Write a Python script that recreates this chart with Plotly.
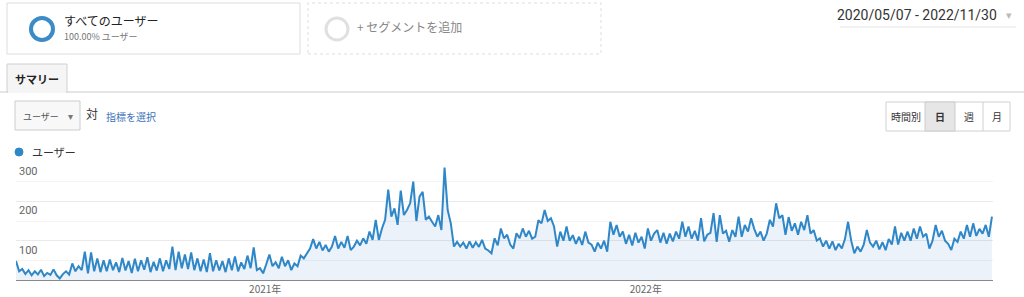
import pandas as pd
import plotly.graph_objects as go

start_date = "2020-05-07"
end_date = "2022-11-30"
users = [
    48, 22, 28, 15, 25, 12, 22, 14, 26, 10, 18, 13, 27, 12, 4,
    15, 22, 14, 42, 22, 35, 25, 72, 17, 70, 22, 55, 20, 50,
    22, 52, 25, 45, 20, 56, 24, 48, 18, 54, 22, 50, 26, 58, 20, 46, 24, 55, 22, 50, 28,
    85, 25, 72, 30, 65, 28, 70, 25, 55, 22, 52, 20, 68, 22, 50, 24, 48, 20, 55, 25,
    60, 22, 45, 28, 62, 30, 83, 25, 30, 17,
    40, 65, 35, 45, 30, 59, 35, 50, 25, 42, 35, 62, 55, 68,
    80, 104, 80, 97, 75, 89, 72, 85, 112, 80, 97, 82, 112, 76, 85, 100, 88, 106, 92,
    123, 102, 153, 102, 131, 153, 230, 161, 182, 140, 227, 165, 178, 195, 250, 150,
    212, 224, 153, 161, 148, 136, 165, 127, 286, 178, 144, 85, 97, 85, 95, 80, 98,
    82, 96, 84, 102, 80, 75, 68, 106, 88, 131, 106, 115, 90, 80, 119, 106, 131, 110,
    125, 105, 110, 152, 144, 178, 150, 157, 136, 85, 123, 100, 136, 100, 114, 92, 110,
    89, 123, 95, 90, 72, 95, 80, 100, 72, 148, 115, 140, 110, 123, 92, 115, 88, 120,
    95, 110, 80, 131, 100, 118, 127, 95, 120, 92, 118, 98, 123, 105, 148, 110, 136,
    105, 125, 100, 157, 98, 115, 120, 170, 97, 165, 118, 125, 97, 127, 110, 161, 110,
    140, 123, 157, 130, 110, 123, 100, 118, 153, 136, 195, 157, 165, 115, 160, 125,
    144, 115, 148, 127, 165, 118, 127, 100, 106, 85, 100, 80, 98, 76, 92, 80, 104,
    148, 100, 68, 85, 72, 90, 127, 95, 85, 100, 78, 96, 76, 104, 90, 136, 90, 120,
    100, 123, 100, 131, 105, 136, 110, 118, 80, 100, 140, 110, 125, 100, 92, 76, 105,
    97, 123, 105, 140, 110, 144, 112, 130, 118, 140, 110, 161,
]
dates = pd.date_range(start_date, periods=len(users), freq="3D")

y_ticks = [100, 200, 300]
x_tick_vals = ["2021-01-01", "2022-01-01"]
x_tick_text = ["2021年", "2022年"]

BLUE = "#2f87c8"
FONT = "Roboto, 'Noto Sans CJK JP', Arial, sans-serif"
JP = "'Noto Sans CJK JP', Roboto, sans-serif"

W, H = 1024, 297
L, R, T, B = 16, 993, 162, 280


def px(x):
    return (x - L) / (R - L)


def py(y):
    return (B - y) / (B - T)


fig = go.Figure()
fig.add_trace(go.Scatter(
    x=dates, y=users, mode="lines",
    line=dict(color=BLUE, width=2),
    fill="tozeroy", fillcolor="rgba(60,130,200,0.10)",
    hoverinfo="skip", showlegend=False,
))

shapes = []
annotations = []


def rect(x0, y0, x1, y1, line="#dddddd", fill="rgba(0,0,0,0)", dash="solid", width=1):
    shapes.append(dict(type="rect", xref="paper", yref="paper",
                       x0=px(x0), x1=px(x1), y0=py(y1), y1=py(y0),
                       line=dict(color=line, width=width, dash=dash),
                       fillcolor=fill, layer="above"))


def hline(x0, x1, y, color="#dddddd", width=1):
    shapes.append(dict(type="line", xref="paper", yref="paper",
                       x0=px(x0), x1=px(x1), y0=py(y), y1=py(y),
                       line=dict(color=color, width=width)))


def vline(x, y0, y1, color="#dddddd", width=1):
    shapes.append(dict(type="line", xref="paper", yref="paper",
                       x0=px(x), x1=px(x), y0=py(y0), y1=py(y1),
                       line=dict(color=color, width=width)))


def circle(cx, cy, r, color, width, fill="rgba(0,0,0,0)"):
    shapes.append(dict(type="circle", xref="paper", yref="paper",
                       x0=px(cx - r), x1=px(cx + r), y0=py(cy + r), y1=py(cy - r),
                       line=dict(color=color, width=width), fillcolor=fill))


def text(x, y, s, size=12, color="#333", anchor="left", family=JP, bold=False):
    if bold:
        s = "<b>" + s + "</b>"
    annotations.append(dict(xref="paper", yref="paper", x=px(x), y=py(y),
                            text=s, showarrow=False, xanchor=anchor, yanchor="middle",
                            font=dict(size=size, color=color, family=family)))


# segment boxes
rect(7, 3, 300, 54, line="#dddddd", fill="white")
circle(42, 29, 11, "#3b8bc6", 4)
text(62, 20, "すべてのユーザー", 12, "#222")
text(62, 36, "100.00% ユーザー", 9, "#777")

rect(308, 3, 601, 54, line="#dddddd", dash="dot")
circle(337, 29, 11, "#e0e0e0", 3)
text(355, 26, "+ セグメントを追加", 12, "#888")

# date range
text(999, 15, "2020/05/07 - 2022/11/30", 14, "#333", anchor="right", family=FONT)
text(1014, 15, "▾", 11, "#bbbbbb", anchor="right", family=FONT)
hline(840, 1016, 27, "#e4e4e4")

# tab
hline(0, 1024, 92, "#cccccc")
rect(7, 64, 67, 92, line="#d0d0d0", fill="#f5f5f5")
hline(8, 66, 92, "#f5f5f5", 2)
text(13, 79, "サマリー", 11, "#222", bold=True)

# metric selector
rect(15, 101, 80, 130, line="#cccccc", fill="#f8f8f8")
text(21, 116, "ユーザー", 9, "#555")
text(75, 116, "▾", 10, "#777", anchor="right", family=FONT)
text(84, 113, "対", 12, "#333")
text(104, 116, "指標を選択", 10, "#3d73b8")

# period buttons
rect(886, 102, 1010, 131, line="#d0d0d0", fill="white")
rect(925, 102, 955, 131, line="#cccccc", fill="#e6e6e6")
vline(983, 102, 131, "#d0d0d0")
text(906, 116, "時間別", 10, "#333", anchor="center")
text(940, 116, "日", 10, "#333", anchor="center", bold=True)
text(969, 116, "週", 10, "#333", anchor="center")
text(997, 116, "月", 10, "#333", anchor="center")

# legend
circle(19, 152, 4, BLUE, 1, fill=BLUE)
text(30, 152, "ユーザー", 11, "#333")

# y labels
for v in y_ticks:
    annotations.append(dict(xref="paper", yref="y", x=0, y=v, text=str(v),
                            showarrow=False, xanchor="left", yanchor="top",
                            xshift=1, yshift=-1,
                            font=dict(size=11, color="#666", family=FONT)))

fig.update_layout(
    width=W, height=H,
    margin=dict(l=L, r=W - R, t=T, b=H - B, pad=0, autoexpand=False),
    paper_bgcolor="white", plot_bgcolor="white",
    shapes=shapes, annotations=annotations,
    xaxis=dict(type="date", range=[start_date, end_date],
               tickvals=x_tick_vals, ticktext=x_tick_text,
               showgrid=False, zeroline=False, showline=True,
               linecolor="#888888", linewidth=1, ticks="",
               tickfont=dict(size=10, color="#666", family=JP),
               automargin=False, fixedrange=True),
    yaxis=dict(range=[0, 300], dtick=100, tick0=0, showticklabels=False,
               showgrid=True, gridcolor="#e9e9e9", zeroline=False,
               minor=dict(dtick=50, showgrid=True, gridcolor="#f3f3f3"),
               automargin=False, fixedrange=True),
    hovermode=False,
)

fig.write_html("out.html", config={"displayModeBar": False})
